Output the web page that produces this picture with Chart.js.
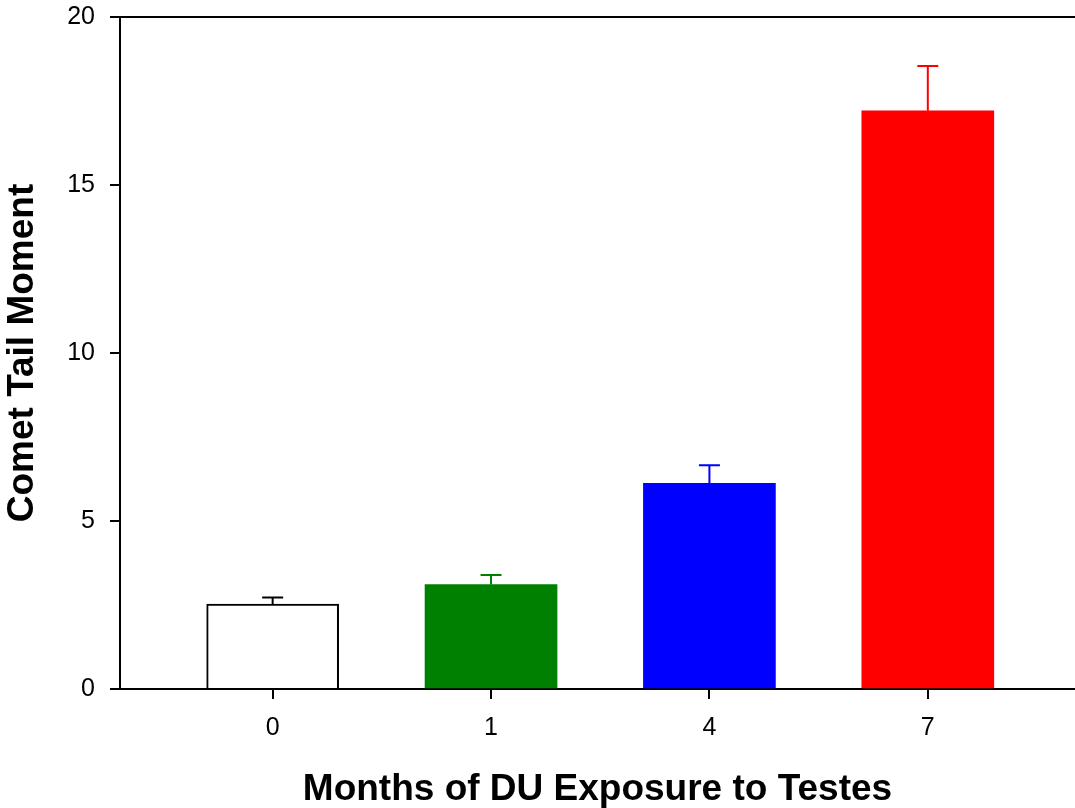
<!DOCTYPE html>
<html>
<head>
<meta charset="utf-8">
<script src="https://cdn.jsdelivr.net/npm/chart.js@4"></script>
<style>
  html, body { margin: 0; padding: 0; background: #ffffff; }
  #wrap { width: 1075px; height: 808px; position: relative; }
</style>
</head>
<body>
<div id="wrap"><canvas id="c"></canvas></div>
<script>
// Comet tail moment in testes after months of DU exposure (mean + upper SE)
const months = ['0', '1', '4', '7'];
const tailMoment = [2.53, 3.11, 6.12, 17.21];
const tailMomentSE = [0.19, 0.28, 0.54, 1.33];
const yTickValues = [0, 5, 10, 15, 20];

const fillColors = ['#ffffff', '#008000', '#0000ff', '#ff0000'];
const lineColors = ['#000000', '#008000', '#0000ff', '#ff0000'];

const FONT = "'Liberation Sans', Arial, Helvetica, sans-serif";
Chart.defaults.font.family = FONT;
Chart.defaults.color = '#000000';

// x range leaves extra room on the right of the last group
const X_MIN = -0.699, X_MAX = 3.674;

// one-sided error bars drawn through the y scale
const errorBars = {
  id: 'errorBars',
  afterDatasetsDraw(chart) {
    const { ctx, scales: { y } } = chart;
    const meta = chart.getDatasetMeta(0);
    ctx.save();
    ctx.lineWidth = 2;
    ctx.lineCap = 'butt';
    meta.data.forEach((bar, i) => {
      const x = bar.x;
      const yMean = y.getPixelForValue(tailMoment[i]);
      const yTop = y.getPixelForValue(tailMoment[i] + tailMomentSE[i]);
      ctx.strokeStyle = lineColors[i];
      ctx.beginPath();
      ctx.moveTo(x, yMean);
      ctx.lineTo(x, yTop);
      ctx.moveTo(x - 10.5, yTop);
      ctx.lineTo(x + 10.5, yTop);
      ctx.stroke();
    });
    ctx.restore();
  }
};

new Chart(document.getElementById('c'), {
  type: 'bar',
  data: {
    datasets: [{
      data: months.map((m, i) => ({ x: i, y: tailMoment[i] })),
      backgroundColor: fillColors,
      borderColor: lineColors,
      borderWidth: [2, 0, 0, 0],
      borderSkipped: 'start',
      barThickness: 132
    }]
  },
  options: {
    responsive: true,
    maintainAspectRatio: false,
    animation: false,
    devicePixelRatio: 1,
    layout: { padding: { top: 17, left: 0, right: 0, bottom: 0 } },
    plugins: { legend: { display: false }, tooltip: { enabled: false } },
    scales: {
      x: {
        type: 'linear',
        position: 'bottom',
        min: X_MIN,
        max: X_MAX,
        offset: false,
        z: 1,
        afterBuildTicks: s => { s.ticks = months.map((m, i) => ({ value: i })); },
        afterFit: s => { s.height = 119; s.paddingLeft = 0; s.paddingRight = 0; },
        ticks: {
          callback: (v, i) => months[i],
          font: { size: 25 },
          color: '#000000',
          padding: 14,
          maxRotation: 0,
          autoSkip: false
        },
        grid: {
          display: true,
          offset: false,
          drawOnChartArea: false,
          drawTicks: true,
          tickLength: 10,
          color: '#000000',
          lineWidth: 2
        },
        border: { display: true, color: '#000000', width: 2 },
        title: {
          display: true,
          text: 'Months of DU Exposure to Testes',
          font: { size: 37, weight: 'bold', lineHeight: 1.0 },
          color: '#000000',
          padding: { top: 0, bottom: 0 }
        }
      },
      xTop: {
        type: 'linear',
        position: 'top',
        min: X_MIN,
        max: X_MAX,
        offset: false,
        z: 1,
        afterFit: s => { s.height = 0; s.paddingLeft = 0; s.paddingRight = 0; },
        ticks: { display: false },
        grid: { display: false, drawTicks: false },
        border: { display: true, color: '#000000', width: 2 }
      },
      y: {
        type: 'linear',
        position: 'left',
        min: 0,
        max: 20,
        z: 1,
        afterBuildTicks: s => { s.ticks = yTickValues.map(v => ({ value: v })); },
        afterFit: s => { s.width = 120; s.paddingTop = 0; s.paddingBottom = 0; },
        ticks: {
          font: { size: 25 },
          color: '#000000',
          padding: 15
        },
        grid: {
          display: true,
          drawOnChartArea: false,
          drawTicks: true,
          tickLength: 10,
          color: '#000000',
          lineWidth: 2
        },
        border: { display: true, color: '#000000', width: 2 },
        title: {
          display: true,
          text: 'Comet Tail Moment',
          font: { size: 37, weight: 'bold' },
          color: '#000000',
          padding: { top: 1, bottom: 0 }
        }
      }
    }
  },
  plugins: [errorBars]
});
</script>
</body>
</html>
